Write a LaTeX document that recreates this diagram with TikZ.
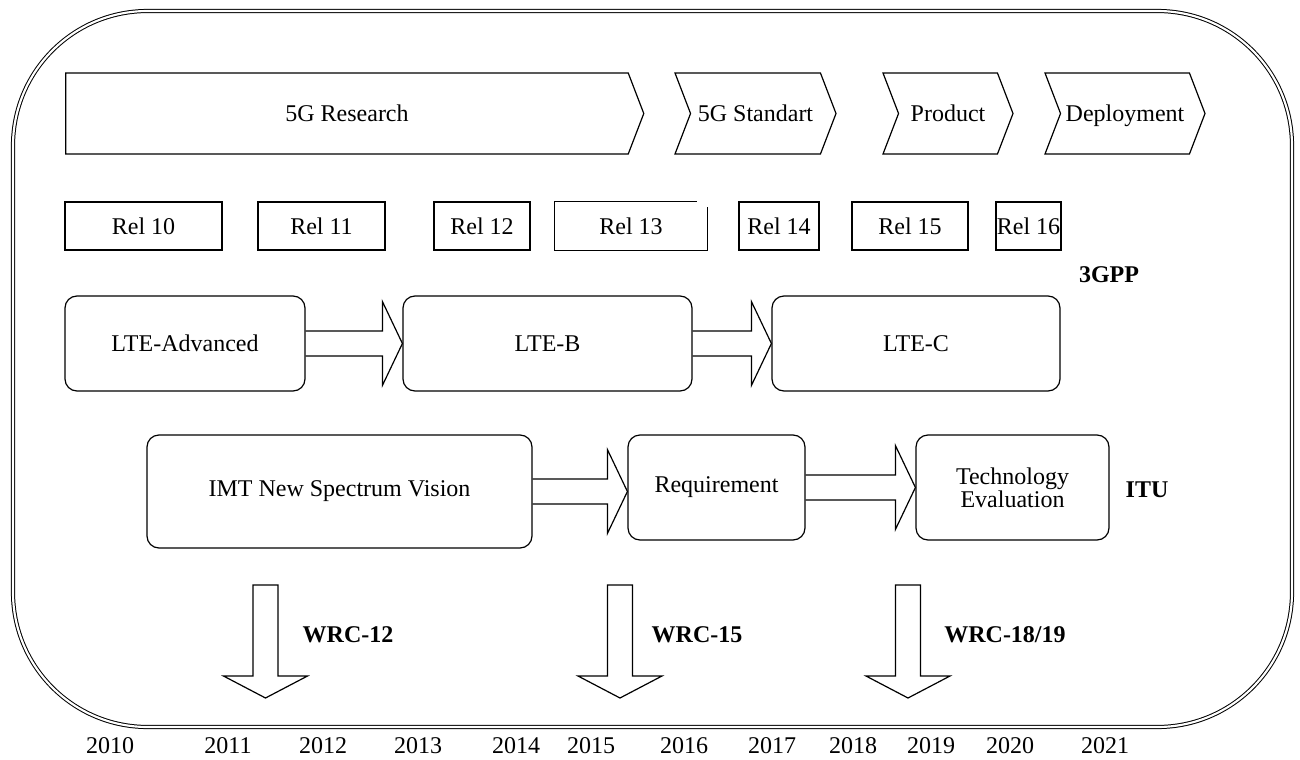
\documentclass[tikz,border=0pt]{standalone}
\usepackage{fontspec}
\setmainfont{Liberation Serif}
\usetikzlibrary{shapes.symbols, calc}
\tikzstyle{frame} = [double, double distance=1.6pt, line width=0.75pt, rounded corners=101pt]
\tikzstyle{phase} = [signal, signal to=east, signal from=west, signal pointer angle=138, minimum height=60.75pt, inner sep=0pt, text height=12.5pt, text depth=0.5pt, draw=black]
\tikzstyle{relbox} = [rectangle, minimum height=36pt, inner sep=0pt, text height=12.5pt, text depth=0.5pt, text centered, draw=black]
\tikzstyle{stagebox} = [rectangle, rounded corners=9pt, inner sep=0pt, text centered, draw=black]
\tikzstyle{blockarrow} = [draw=black, line join=miter]
\tikzstyle{tag} = [font=\fontsize{18}{21}\selectfont\bfseries]
\tikzstyle{year} = [inner sep=0pt]
% hollow arrow from one node anchor to another
\newcommand{\blockarrow}[2]{\draw[blockarrow] ($(#1)+(0,-12.5)$) -- ($(#2)+(-20,-12.5)$) -- ($(#2)+(-20,-42)$) -- (#2) -- ($(#2)+(-20,42)$) -- ($(#2)+(-20,12.5)$) -- ($(#1)+(0,12.5)$);}
% hollow arrow pointing down from a coordinate
\newcommand{\wrcarrow}[1]{\draw[blockarrow] ($(#1)+(-12.5,0)$) -- ($(#1)+(12.5,0)$) -- ($(#1)+(12.5,91)$) -- ($(#1)+(42,91)$) -- ($(#1)+(0,113)$) -- ($(#1)+(-42,91)$) -- ($(#1)+(-12.5,91)$) -- cycle;}

\begin{document}
\begin{tikzpicture}[x=0.75pt, y=-0.75pt, font=\fontsize{18}{21}\selectfont, line width=0.9pt]
    \useasboundingbox (0,0) rectangle (1300,760);
    \draw[frame] (13,11) rectangle (1292,727);

    % phases
    \node (research) [phase, signal from=nowhere, minimum width=433.5pt] at (347,113.5) {5G Research};
    \node (standart) [phase, minimum width=120.75pt] at (755.5,113.5) {5G Standart};
    \node (product) [phase, minimum width=97.5pt] at (948,113.5) {Product};
    \node (deploy) [phase, minimum width=120pt] at (1125,113.5) {Deployment};

    % releases
    \node (rel10) [relbox, minimum width=117.75pt] at (143.5,226) {Rel 10};
    \node (rel11) [relbox, minimum width=95.25pt] at (321.5,226) {Rel 11};
    \node (rel12) [relbox, minimum width=72pt] at (482,226) {Rel 12};
    \node (rel13) [relbox, draw=none, minimum width=114pt] at (631,226) {Rel 13};
    \draw ([xshift=-8.25pt]rel13.north east) -- (rel13.north west) -- (rel13.south west) -- (rel13.south east) -- ([yshift=-4.5pt]rel13.north east);
    \node (rel14) [relbox, minimum width=60pt] at (779,226) {Rel 14};
    \node (rel15) [relbox, minimum width=87pt] at (910,226) {Rel 15};
    \node (rel16) [relbox, minimum width=48.75pt] at (1028.5,226) {Rel 16};
    \node (gpp) [tag] at (1109,275) {3GPP};

    % LTE
    \node (lteadv) [stagebox, minimum width=180pt, minimum height=71.25pt] at (185,343.5) {LTE-Advanced};
    \node (lteb) [stagebox, minimum width=216.75pt, minimum height=71.25pt] at (547.5,343.5) {LTE-B};
    \node (ltec) [stagebox, minimum width=216pt, minimum height=71.25pt] at (916,343.5) {LTE-C};
    \blockarrow{lteadv.east}{lteb.west}
    \blockarrow{lteb.east}{ltec.west}

    % ITU
    \node (imt) [stagebox, minimum width=288.75pt, minimum height=84.75pt] at (339.5,491.5) {IMT New Spectrum Vision};
    \node (req) [stagebox, minimum width=132.75pt, minimum height=78.75pt] at (716.5,487.5) {Requirement};
    \node (techeval) [stagebox, minimum width=144.75pt, minimum height=78.75pt, align=center, font=\fontsize{18}{17}\selectfont] at (1012.5,487.5) {Technology\\Evaluation};
    \node (itu) [tag] at (1147,490) {ITU};
    \blockarrow{imt.east}{imt.east -| req.west}
    \blockarrow{req.east}{techeval.west}

    % WRC
    \coordinate (wrc12top) at (265.5,585);
    \coordinate (wrc15top) at (620,585);
    \coordinate (wrc19top) at (908,585);
    \wrcarrow{wrc12top}
    \wrcarrow{wrc15top}
    \wrcarrow{wrc19top}
    \node (wrc12) [tag] at (348,635) {WRC-12};
    \node (wrc15) [tag] at (697,635) {WRC-15};
    \node (wrc19) [tag] at (1005,635) {WRC-18/19};

    % years
    \foreach \yr/\xx in {2010/110, 2011/228, 2012/323, 2013/418, 2014/516, 2015/591, 2016/684, 2017/772, 2018/853, 2019/931, 2020/1010, 2021/1105}
        \node (y\yr) [year] at (\xx,746) {\yr};
\end{tikzpicture}
\end{document}
